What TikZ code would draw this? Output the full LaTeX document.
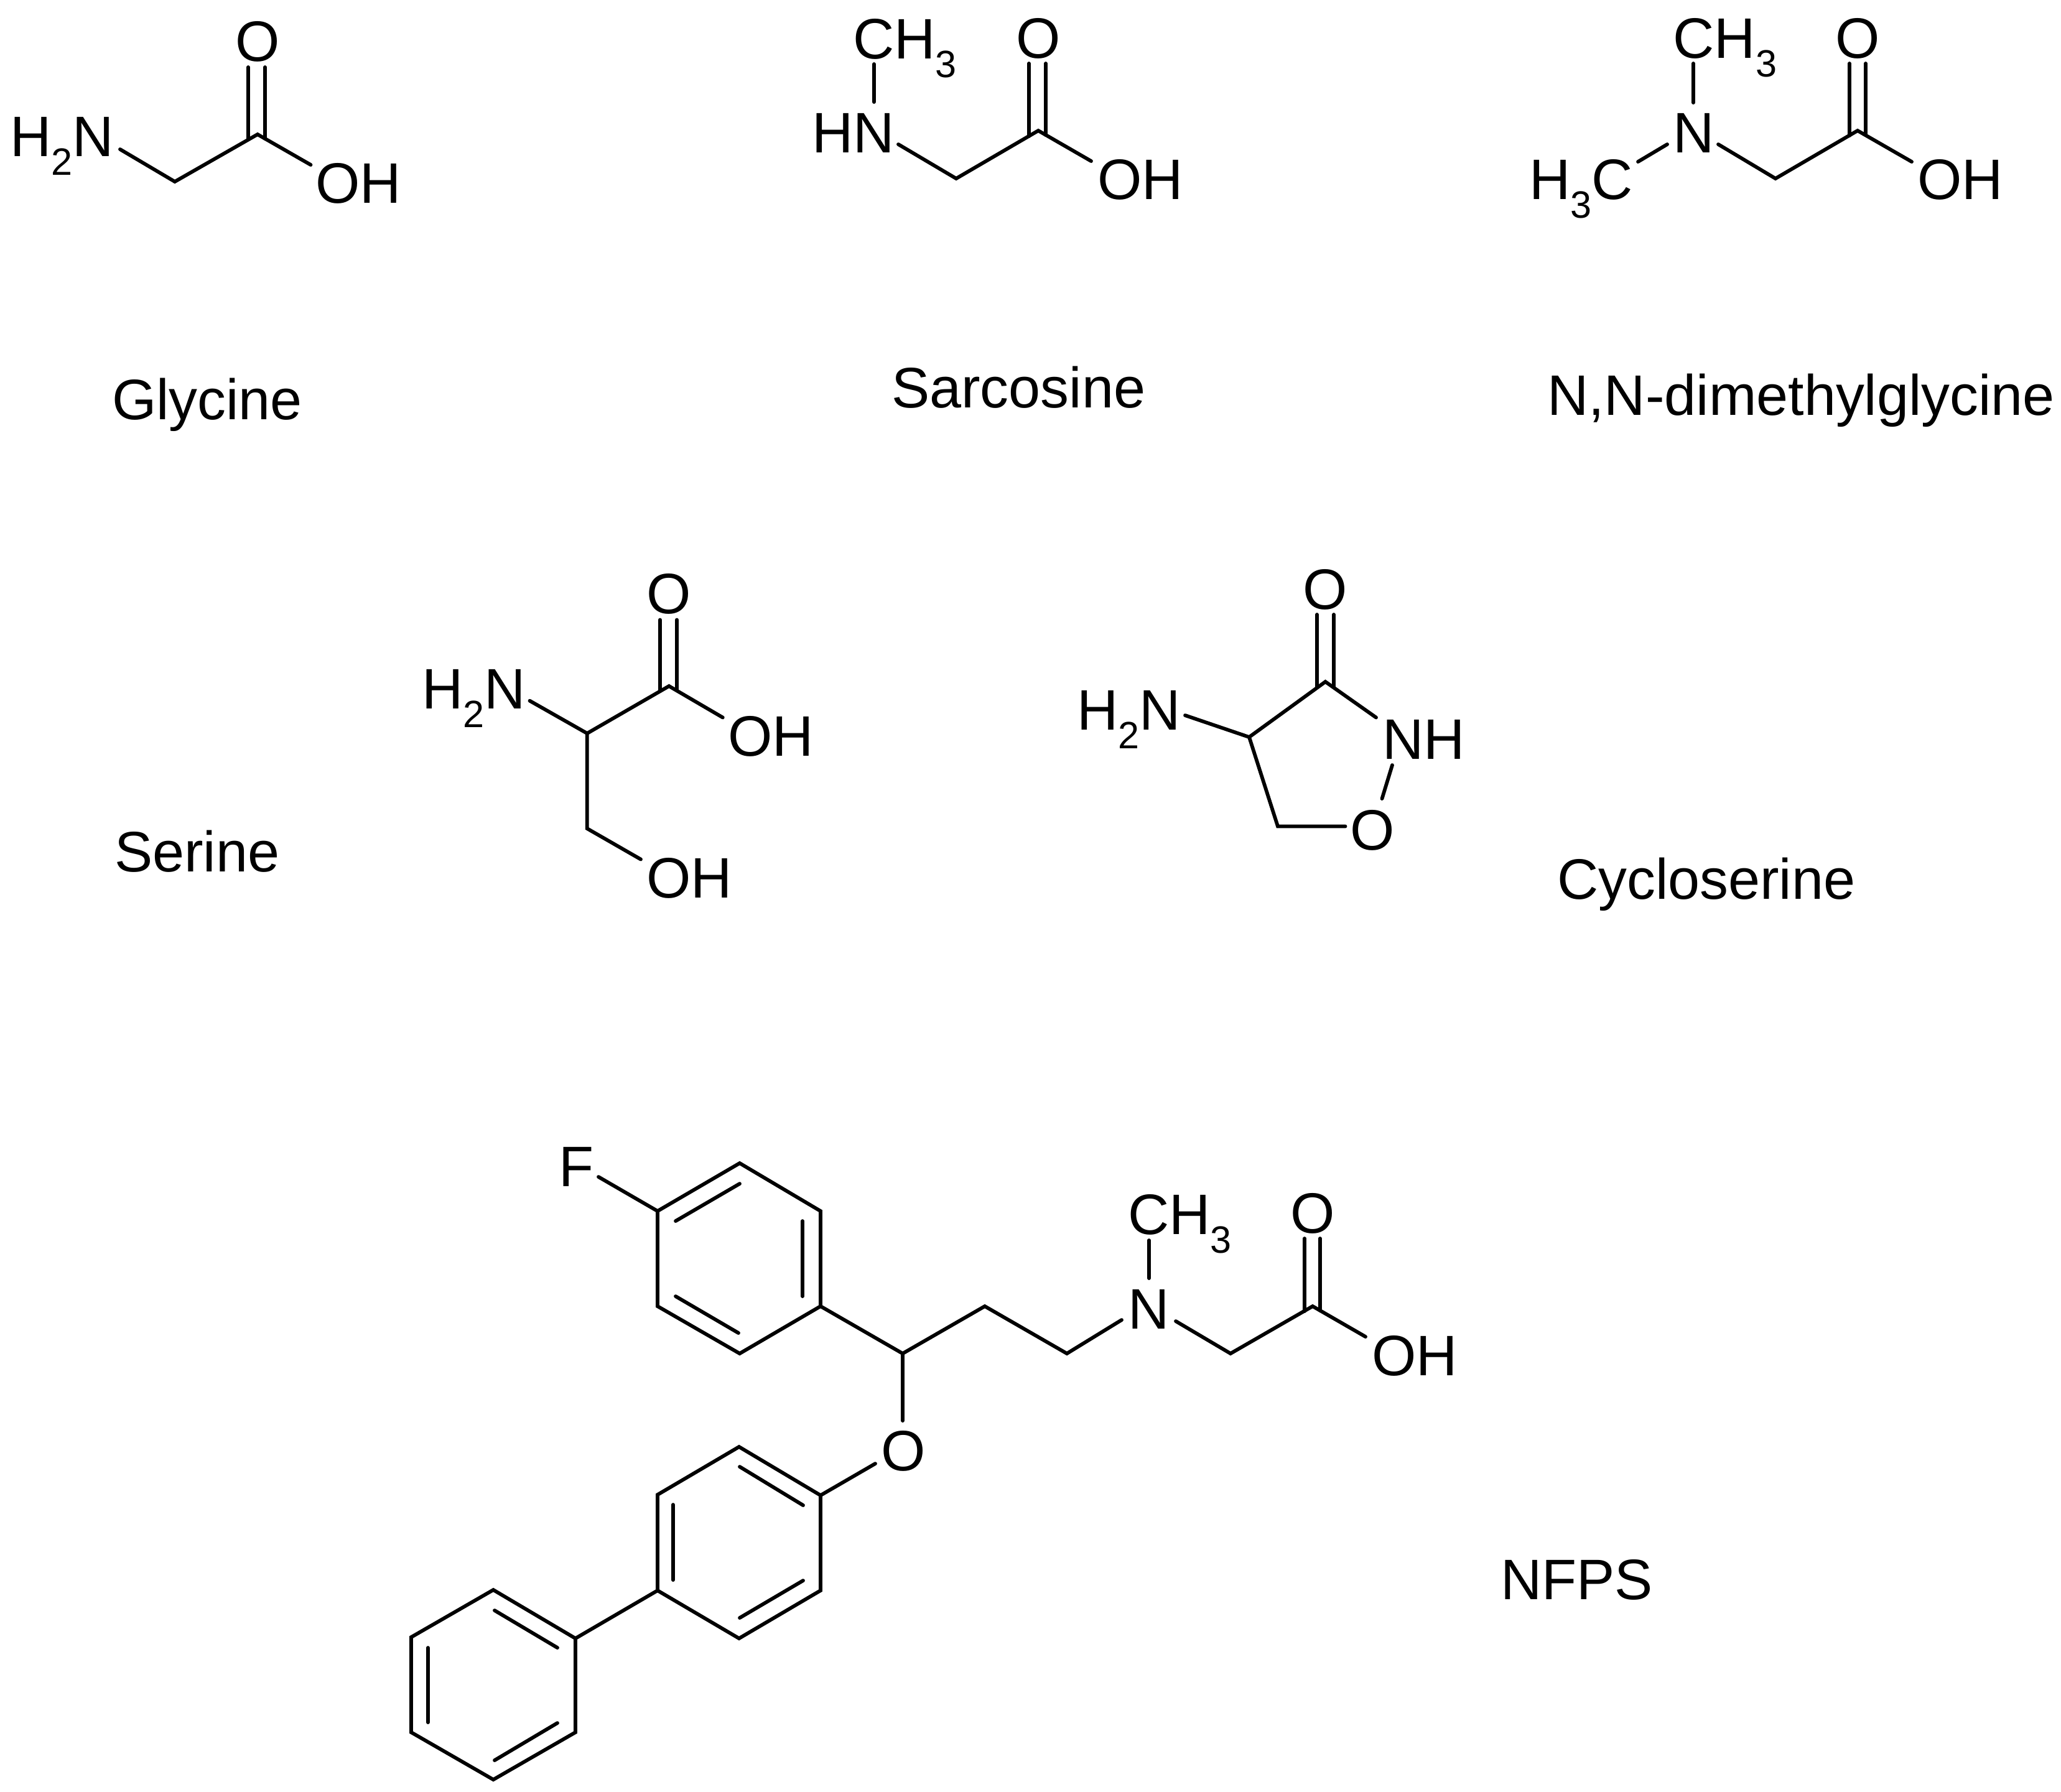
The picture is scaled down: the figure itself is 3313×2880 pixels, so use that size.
\documentclass[tikz,border=0pt]{standalone}
\usepackage{fontspec}
\setmainfont{Liberation Sans}
\newcommand{\chemsub}[1]{\raisebox{-0.30cm}{\fontsize{17.4}{20}\selectfont #1}}
\tikzset{
  atomlabel/.style={anchor=base west,inner sep=0pt,outer sep=0pt,font=\fontsize{26.1}{30}\selectfont},
  atomcentre/.style={atomlabel,anchor=base},
  caption/.style={atomlabel},
  bond/.style={draw=black,line width=1.65pt,line cap=round,line join=miter}
}
\begin{document}
\begin{tikzpicture}[x=0.01cm,y=-0.01cm]
\path[fill=white,use as bounding box] (0,0) rectangle (3313,2880);

% ---------- Glycine
\node[atomlabel] (gN) at (16,251.6) {H\chemsub{2}N};
\node[atomcentre] (gO) at (414,98) {O};
\node[atomlabel] (gOH) at (507.5,326.5) {OH};
\node[caption] (gName) at (180,674) {Glycine};
\coordinate (g1) at (193,240);
\coordinate (g2) at (281,292);
\coordinate (g3) at (414,216);
\coordinate (g4) at (499.5,265);
\coordinate (g5a) at (399,108);
\coordinate (g5b) at (426,108);
\coordinate (g6a) at (399,224);
\coordinate (g6b) at (426,223);
\draw[bond] (g1) -- (g2) -- (g3) -- (g4);
\draw[bond] (g5a) -- (g6a);
\draw[bond] (g5b) -- (g6b);

% ---------- Sarcosine
\node[atomlabel] (sC) at (1371,94) {CH\chemsub{3}};
\node[atomlabel] (sN) at (1305,245.6) {HN};
\node[atomcentre] (sO) at (1669,93) {O};
\node[atomlabel] (sOH) at (1764.5,320) {OH};
\node[caption] (sName) at (1433,655) {Sarcosine};
\coordinate (s0a) at (1405,103);
\coordinate (s0b) at (1405,164);
\coordinate (s1) at (1444,232);
\coordinate (s2) at (1537,287);
\coordinate (s3) at (1669,210);
\coordinate (s4) at (1754,259);
\coordinate (s5a) at (1654,102);
\coordinate (s5b) at (1681,102);
\coordinate (s6a) at (1654,219);
\coordinate (s6b) at (1681,217);
\draw[bond] (s0a) -- (s0b);
\draw[bond] (s1) -- (s2) -- (s3) -- (s4);
\draw[bond] (s5a) -- (s6a);
\draw[bond] (s5b) -- (s6b);

% ---------- N,N-dimethylglycine
\node[atomlabel] (dC) at (2689.5,93) {CH\chemsub{3}};
\node[atomlabel] (dN) at (2689,245.6) {N};
\node[atomlabel] (dMe) at (2458,320) {H\chemsub{3}C};
\node[atomcentre] (dO) at (2986,93) {O};
\node[atomlabel] (dOH) at (3082.5,320) {OH};
\node[caption] (dName) at (2487,667) {N,N-dimethylglycine};
\coordinate (d0a) at (2722,102);
\coordinate (d0b) at (2722,165);
\coordinate (d7a) at (2680,232);
\coordinate (d7b) at (2633,260);
\coordinate (d1) at (2762,232);
\coordinate (d2) at (2854,287);
\coordinate (d3) at (2986,210);
\coordinate (d4) at (3073,260);
\coordinate (d5a) at (2973,102);
\coordinate (d5b) at (2999,102);
\coordinate (d6a) at (2973,218);
\coordinate (d6b) at (2999,217);
\draw[bond] (d0a) -- (d0b);
\draw[bond] (d7a) -- (d7b);
\draw[bond] (d1) -- (d2) -- (d3) -- (d4);
\draw[bond] (d5a) -- (d6a);
\draw[bond] (d5b) -- (d6b);

% ---------- Serine
\node[atomlabel] (seN) at (678.5,1139.7) {H\chemsub{2}N};
\node[atomcentre] (seO) at (1075.4,986) {O};
\node[atomlabel] (seOH) at (1170.5,1215) {OH};
\node[atomlabel] (seOHb) at (1039,1443) {OH};
\node[caption] (seName) at (184,1401) {Serine};
\coordinate (se1) at (851.5,1126.6);
\coordinate (se2) at (943.8,1179);
\coordinate (se3) at (1075.4,1103);
\coordinate (se4) at (1161.8,1153.5);
\coordinate (se5a) at (1061,996.5);
\coordinate (se5b) at (1088,996.5);
\coordinate (se6a) at (1061,1111);
\coordinate (se6b) at (1088,1110);
\coordinate (se7) at (943.8,1332);
\coordinate (se8) at (1030,1381.5);
\draw[bond] (se1) -- (se2) -- (se3) -- (se4);
\draw[bond] (se5a) -- (se6a);
\draw[bond] (se5b) -- (se6b);
\draw[bond] (se2) -- (se7) -- (se8);

% ---------- Cycloserine
\node[atomlabel] (cN) at (1731,1173) {H\chemsub{2}N};
\node[atomcentre] (cO) at (2130.5,979) {O};
\node[atomlabel] (cNH) at (2222,1220) {NH};
\node[atomcentre] (cOr) at (2206.6,1366) {O};
\node[caption] (cName) at (2503,1445) {Cycloserine};
\coordinate (c1) at (1905,1150);
\coordinate (c2) at (2008,1185);
\coordinate (c3) at (2130.5,1096);
\coordinate (c4) at (2212,1153.5);
\coordinate (c5a) at (2117,988);
\coordinate (c5b) at (2144,988);
\coordinate (c6a) at (2117,1105);
\coordinate (c6b) at (2144,1105);
\coordinate (c7) at (2054,1328.5);
\coordinate (c8) at (2162.5,1328.5);
\coordinate (c9a) at (2238,1230);
\coordinate (c9b) at (2221.5,1284);
\draw[bond] (c1) -- (c2) -- (c3) -- (c4);
\draw[bond] (c5a) -- (c6a);
\draw[bond] (c5b) -- (c6b);
\draw[bond] (c2) -- (c7) -- (c8);
\draw[bond] (c9a) -- (c9b);

% ---------- NFPS
\node[atomlabel] (nF) at (898,1907) {F};
\node[atomlabel] (nN) at (1813,2136) {N};
\node[atomlabel] (nC) at (1813,1984) {CH\chemsub{3}};
\node[atomcentre] (nO) at (2110,1982) {O};
\node[atomlabel] (nOH) at (2205,2211) {OH};
\node[atomcentre] (nOe) at (1452,2364) {O};
\node[caption] (nName) at (2412,2571) {NFPS};
% fluorophenyl ring
\coordinate (a1) at (1189,1870);
\coordinate (a2) at (1319,1947);
\coordinate (a3) at (1319,2100);
\coordinate (a4) at (1189,2176);
\coordinate (a5) at (1057,2100);
\coordinate (a6) at (1057,1947);
\coordinate (a7a) at (1086,1963);
\coordinate (a7b) at (1189,1903);
\coordinate (a8a) at (1290,1963);
\coordinate (a8b) at (1290,2084);
\coordinate (a9a) at (1086,2084);
\coordinate (a9b) at (1187,2143);
\coordinate (aF) at (962,1892);
\draw[bond] (a1) -- (a2) -- (a3) -- (a4) -- (a5) -- (a6) -- cycle;
\draw[bond] (a7a) -- (a7b);
\draw[bond] (a8a) -- (a8b);
\draw[bond] (a9a) -- (a9b);
\draw[bond] (aF) -- (a6);
% central ring
\coordinate (b1) at (1188,2326);
\coordinate (b2) at (1319,2404);
\coordinate (b3) at (1319,2557);
\coordinate (b4) at (1188,2634);
\coordinate (b5) at (1057,2557);
\coordinate (b6) at (1057,2403);
\coordinate (b7a) at (1189,2358);
\coordinate (b7b) at (1291,2420);
\coordinate (b8a) at (1082,2419);
\coordinate (b8b) at (1082,2540);
\coordinate (b9a) at (1189,2601);
\coordinate (b9b) at (1291,2541);
\draw[bond] (b1) -- (b2) -- (b3) -- (b4) -- (b5) -- (b6) -- cycle;
\draw[bond] (b7a) -- (b7b);
\draw[bond] (b8a) -- (b8b);
\draw[bond] (b9a) -- (b9b);
% chain
\coordinate (n1) at (1451,2176);
\coordinate (n2) at (1583,2100);
\coordinate (n3) at (1715,2176);
\coordinate (n4) at (1803,2122);
\coordinate (n5a) at (1847,1994);
\coordinate (n5b) at (1847,2055);
\coordinate (n6) at (1890,2124);
\coordinate (n7) at (1978,2176);
\coordinate (n8) at (2110,2100);
\coordinate (n9) at (2195,2149);
\coordinate (n10a) at (2097,1991);
\coordinate (n10b) at (2122,1991);
\coordinate (n11a) at (2097,2108);
\coordinate (n11b) at (2122,2107);
\coordinate (n12) at (1451,2284);
\coordinate (n13) at (1407,2353);
\draw[bond] (a3) -- (n1) -- (n2) -- (n3) -- (n4);
\draw[bond] (n5a) -- (n5b);
\draw[bond] (n6) -- (n7) -- (n8) -- (n9);
\draw[bond] (n10a) -- (n11a);
\draw[bond] (n10b) -- (n11b);
\draw[bond] (n1) -- (n12);
\draw[bond] (n13) -- (b2);
% terminal ring
\coordinate (e1) at (925,2634);
\coordinate (e2) at (793,2556);
\coordinate (e3) at (661,2632);
\coordinate (e4) at (661,2785);
\coordinate (e5) at (793,2861);
\coordinate (e6) at (925,2785);
\coordinate (e7a) at (795,2589);
\coordinate (e7b) at (896,2649);
\coordinate (e8a) at (688,2649);
\coordinate (e8b) at (688,2769);
\coordinate (e9a) at (795,2830);
\coordinate (e9b) at (896,2770);
\draw[bond] (e1) -- (e2) -- (e3) -- (e4) -- (e5) -- (e6) -- cycle;
\draw[bond] (e7a) -- (e7b);
\draw[bond] (e8a) -- (e8b);
\draw[bond] (e9a) -- (e9b);
\draw[bond] (b5) -- (e1);
\end{tikzpicture}
\end{document}
